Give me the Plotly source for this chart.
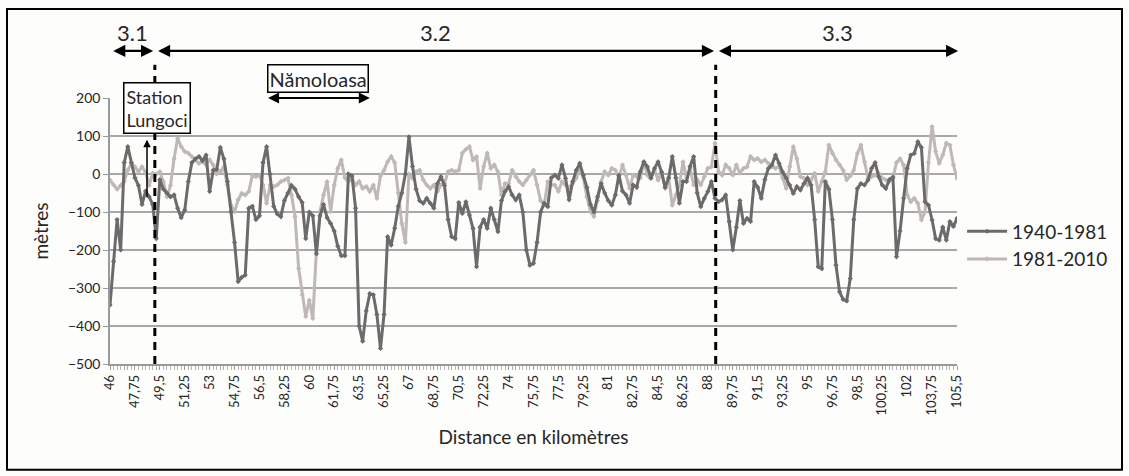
import numpy as np
import plotly.graph_objects as go

# Profile offsets (m) sampled every 0.25 km from km 46 to km 105.5
KM_START, KM_STEP = 46.0, 0.25

offset_1940_1981 = [
    -345, -230, -120, -200, 30, 72, 30, -10, -30, -80,
    -45, -60, -80, -170, -15, -40, -50, -60, -55, -90,
    -115, -95, -20, 30, 40, 46, 35, 50, -46, 10,
    12, 70, 40, -20, -100, -180, -283, -272, -266, -90,
    -85, -120, -110, 30, 72, 0, -85, -105, -112, -70,
    -50, -30, -40, -60, -75, -170, -100, -110, -210, -110,
    -80, -115, -130, -150, -190, -215, -215, 0, -5, -90,
    -400, -440, -360, -315, -318, -370, -459, -370, -165, -187,
    -143, -85, -50, 0, 98, 20, -40, -70, -77, -64,
    -77, -90, -25, -7, -30, -120, -165, -170, -75, -104,
    -73, -108, -143, -244, -140, -120, -143, -90, -120, -152,
    -70, -46, -33, -55, -68, -55, -100, -200, -240, -235,
    -180, -100, -77, -86, -10, -3, -11, 24, -11, -68,
    -20, 10, 28, -3, -35, -80, -100, -60, -25, -50,
    -70, -82, -55, -3, -45, -55, -77, -29, -35, 6,
    32, 19, -11, 15, 32, 5, -35, -10, 46, -10,
    -77, -20, -20, 20, 46, -50, -86, -64, -46, -20,
    -64, -73, -68, -55, -125, -200, -140, -70, -130, -117,
    -125, -20, -35, -64, -15, 15, 24, 50, 28, 5,
    -11, -29, -51, -33, -42, -25, -11, -29, -120, -244,
    -249, -20, -40, -120, -240, -310, -330, -334, -275, -120,
    -38, -25, -29, -16, 15, 30, -7, -29, -38, -15,
    -8, -218, -150, -64, 15, 50, 54, 85, 70, -73,
    -82, -121, -170, -174, -140, -174, -125, -138, -117,
]

offset_1981_2010 = [
    -16, -29, -40, -30, -20, 10, 28, 19, 6, 19,
    5, -30, 2, 0, 6, -20, -60, -30, 40, 94,
    72, 59, 55, 46, 37, 28, 32, 24, 37, 24,
    0, 6, 19, -29, -82, -99, -68, -51, -55, -46,
    -3, -7, -3, -29, -77, -29, -33, -29, -20, -16,
    -11, -55, -112, -248, -318, -375, -332, -380, -200, -99,
    -55, -20, -99, -29, 15, 37, -10, -20, -11, -29,
    -20, -38, -33, -46, -29, -64, -5, 10, 32, 46,
    30, -50, -130, -180, 0, -11, 6, 10, -15, -29,
    -38, -29, -46, -29, -25, 6, 10, 6, 10, 55,
    65, 72, 37, 46, -38, 20, 55, 15, 24, 6,
    -55, -25, -25, 10, -7, -20, -29, -16, -3, 10,
    -29, -70, -82, -20, -29, -29, -46, -20, -29, -35,
    -25, -11, 15, -10, -60, -99, -112, -70, -20, 6,
    -3, 15, 10, -11, 24, -3, -38, -3, -7, -10,
    32, -3, -11, 10, -16, 2, -38, -11, -82, -55,
    -29, 32, -11, 15, -29, -15, -29, -7, 15, 19,
    81, 6, -3, 24, 15, -3, 24, 2, 15, 19,
    46, 37, 41, 32, 37, 28, 19, 15, 20, -10,
    -38, 19, 72, 40, -7, -11, -29, -16, 2, -46,
    -20, 6, 76, 54, 37, 24, 10, -15, -5, 10,
    54, 76, 32, -11, -7, -3, 2, -11, -16, -20,
    -11, 30, 40, 24, -55, -73, -64, -77, -121, -100,
    30, 125, 59, 28, 50, 81, 76, 24, -11,
]

tick_km = [46, 47.75, 49.5, 51.25, 53, 54.75, 56.5, 58.25, 60, 61.75,
           63.5, 65.25, 67, 68.75, 70.5, 72.25, 74, 75.75, 77.5, 79.25,
           81, 82.75, 84.5, 86.25, 88, 89.75, 91.5, 93.25, 95, 96.75,
           98.5, 100.25, 102, 103.75, 105.5]
tick_labels = ["46", "47,75", "49,5", "51,25", "53", "54,75", "56,5", "58,25", "60", "61,75",
               "63,5", "65,25", "67", "68,75", "70,5", "72,25", "74", "75,75", "77,5", "79,25",
               "81", "82,75", "84,5", "86,25", "88", "89,75", "91,5", "93,25", "95", "96,75",
               "98,5", "100,25", "102", "103,75", "105,5"]

# Reach boundaries (km) and labels
sections = [("3.1", 46.0, 49.15), ("3.2", 49.15, 88.55), ("3.3", 88.55, 105.7)]
namoloasa_km = (57.0, 64.25)
station_km = 48.6

km = KM_START + KM_STEP * np.arange(len(offset_1940_1981))

DARK = "#6b6b6b"
LIGHT = "#bfb8b5"
FONT = "Lato, 'Open Sans', sans-serif"
TXT = "#262626"

fig = go.Figure()
fig.add_trace(go.Scatter(
    x=km, y=offset_1981_2010, name="1981-2010", mode="lines+markers",
    line=dict(color=LIGHT, width=3), marker=dict(color=LIGHT, size=4, symbol="diamond"),
    legendgroup="b", legendrank=2,
))
fig.add_trace(go.Scatter(
    x=km, y=offset_1940_1981, name="1940-1981", mode="lines+markers",
    line=dict(color=DARK, width=3), marker=dict(color=DARK, size=4, symbol="diamond"),
    legendgroup="a", legendrank=1,
))

shapes = []
# dashed reach boundaries
for b in (sections[0][2], sections[1][2]):
    shapes.append(dict(type="line", xref="x", yref="paper", x0=b, x1=b, y0=0, y1=1.125,
                       line=dict(color="black", width=3, dash="8px,6px")))
# outer frame
shapes.append(dict(type="rect", xref="paper", yref="paper",
                   x0=-0.1216, x1=1.1948, y0=-0.398, y1=1.3346,
                   line=dict(color="black", width=2), layer="below"))

annotations = []
arrow_y = 1.177
for label, a, b in sections:
    annotations.append(dict(xref="x", yref="paper", axref="x", ayref="pixel",
                            x=b - 0.12, y=arrow_y, ax=a + 0.12, ay=0, text="",
                            showarrow=True, arrowhead=2, arrowside="end+start",
                            arrowsize=1.1, arrowwidth=2.2, arrowcolor="black"))
    annotations.append(dict(xref="x", yref="paper", x=(a + b) / 2, y=1.245,
                            xanchor="center", yanchor="middle",
                            text=label, showarrow=False,
                            font=dict(family=FONT, size=22, color=TXT)))

# Nămoloasa reach
annotations.append(dict(xref="x", yref="y", axref="x", ayref="y",
                        x=namoloasa_km[1], y=200, ax=namoloasa_km[0], ay=200, text="",
                        showarrow=True, arrowhead=2, arrowside="end+start",
                        arrowsize=1.1, arrowwidth=2, arrowcolor="black"))
annotations.append(dict(xref="x", yref="paper", x=sum(namoloasa_km) / 2, y=1.075,
                        xanchor="center", yanchor="middle",
                        text="Nămoloasa", showarrow=False,
                        font=dict(family=FONT, size=20, color=TXT),
                        bordercolor="black", borderwidth=1.5, borderpad=1, bgcolor="white"))

# gauging station
annotations.append(dict(xref="x", yref="y", axref="x", ayref="y",
                        x=station_km, y=90, ax=station_km, ay=-65, text="",
                        showarrow=True, arrowhead=2, arrowsize=1, arrowwidth=1.5,
                        arrowcolor="black"))
annotations.append(dict(xref="paper", yref="paper", x=0.056, y=0.962,
                        xanchor="center", yanchor="middle",
                        text="Station<br>Lungoci", showarrow=False, align="left",
                        font=dict(family=FONT, size=18, color=TXT),
                        bordercolor="black", borderwidth=1.5, borderpad=2, bgcolor="white"))

fig.update_layout(
    width=1129, height=476,
    margin=dict(l=110, r=172, t=98, b=112, autoexpand=False),
    paper_bgcolor="#fdfdfb", plot_bgcolor="#fdfdfb",
    font=dict(family=FONT, color=TXT),
    shapes=shapes, annotations=annotations,
    showlegend=True,
    legend=dict(x=1.006, y=0.57, xanchor="left", yanchor="top",
                font=dict(family=FONT, size=19, color=TXT),
                bgcolor="rgba(0,0,0,0)", tracegroupgap=8, itemwidth=40,
                traceorder="normal"),
)

fig.update_xaxes(
    range=[46, 105.5], tickvals=tick_km, ticktext=tick_labels, tickangle=-90,
    tickfont=dict(family=FONT, size=13, color=TXT),
    ticks="outside", ticklen=4, tickcolor="#9a9a9a",
    minor=dict(dtick=0.25, tick0=46, ticks="outside", ticklen=4, tickcolor="#b5b5b5", showgrid=False),
    showgrid=False, showline=True, linecolor="#9a9a9a", linewidth=1.5, zeroline=False,
    title=dict(text="Distance en kilomètres", standoff=16,
               font=dict(family=FONT, size=19, color=TXT)),
)
fig.update_yaxes(
    range=[-500, 200], dtick=100, tickfont=dict(family=FONT, size=14, color=TXT),
    ticks="outside", ticklen=5, tickcolor="#9a9a9a",
    showgrid=True, gridcolor="#a8a8a8", gridwidth=1.5,
    showline=True, linecolor="#9a9a9a", linewidth=1.5, zeroline=False,
    title=dict(text="mètres", standoff=14, font=dict(family=FONT, size=19, color=TXT)),
)

fig.write_html("out.html")
